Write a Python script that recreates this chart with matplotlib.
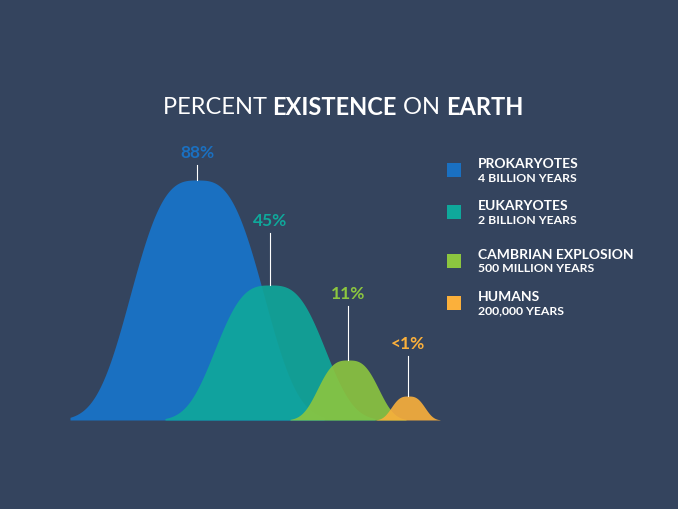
import numpy as np
import matplotlib.pyplot as plt

plt.rcParams['font.family'] = ['Lato', 'DejaVu Sans']

names = ['PROKARYOTES', 'EUKARYOTES', 'CAMBRIAN EXPLOSION', 'HUMANS']
spans = ['4 BILLION YEARS', '2 BILLION YEARS', '500 MILLION YEARS', '200,000 YEARS']
labels = ['88%', '45%', '11%', '<1%']
colors = ['#1a70c1', '#0fa89b', '#8cc63f', '#fbb03b']
# shape geometry (pixels)
centers = [197, 270, 348, 408]
half_widths = [127, 105, 58, 32]
heights = [240, 135, 60, 24]
label_y = [153, 221, 294, 344]
legend_y = [170, 212, 261, 303]
base = 420

fig = plt.figure(figsize=(6.78, 5.09), dpi=100, facecolor='#34445e')
ax = fig.add_axes([0, 0, 1, 1])
ax.set_xlim(0, 678)
ax.set_ylim(509, 0)
ax.axis('off')

for i in range(4):
    c, hw, h = centers[i], half_widths[i], heights[i]
    x = np.linspace(c - hw, c + hw, 300)
    w = hw * 77 / 127
    y = h * np.exp(-(np.abs(x - c) / w) ** 3)
    ax.fill_between(x, base, base - y, color=colors[i], alpha=0.9 if i else 1, lw=0, zorder=i + 1)
    ax.plot([c, c], [base - h, label_y[i] + 12], color='white', lw=0.8, zorder=10)
    ax.text(c, label_y[i], labels[i], color=colors[i], fontsize=12.5, fontweight='bold',
            ha='center', va='center', zorder=10)

    ly = legend_y[i]
    ax.add_patch(plt.Rectangle((447, ly - 7), 14, 14, color=colors[i], lw=0))
    ax.text(478, ly - 6, names[i], color='white', fontsize=10, fontweight='bold', va='center')
    ax.text(478, ly + 8, spans[i], color='white', fontsize=8.8, fontweight='bold', va='center')

# title with mixed weights
parts = [('PERCENT ', 'normal'), ('EXISTENCE', 'bold'), (' ON ', 'normal'), ('EARTH', 'bold')]
fig.canvas.draw()
r = fig.canvas.get_renderer()
texts = []
for s, wt in parts:
    t = ax.text(0, 107, s, color='white', fontsize=17, fontweight=wt, va='center')
    texts.append(t)
widths = [t.get_window_extent(r).width for t in texts]
x0 = 343 - sum(widths) / 2
for t, wd in zip(texts, widths):
    t.set_x(x0)
    x0 += wd

fig.savefig('out.png', dpi=100, facecolor=fig.get_facecolor())
